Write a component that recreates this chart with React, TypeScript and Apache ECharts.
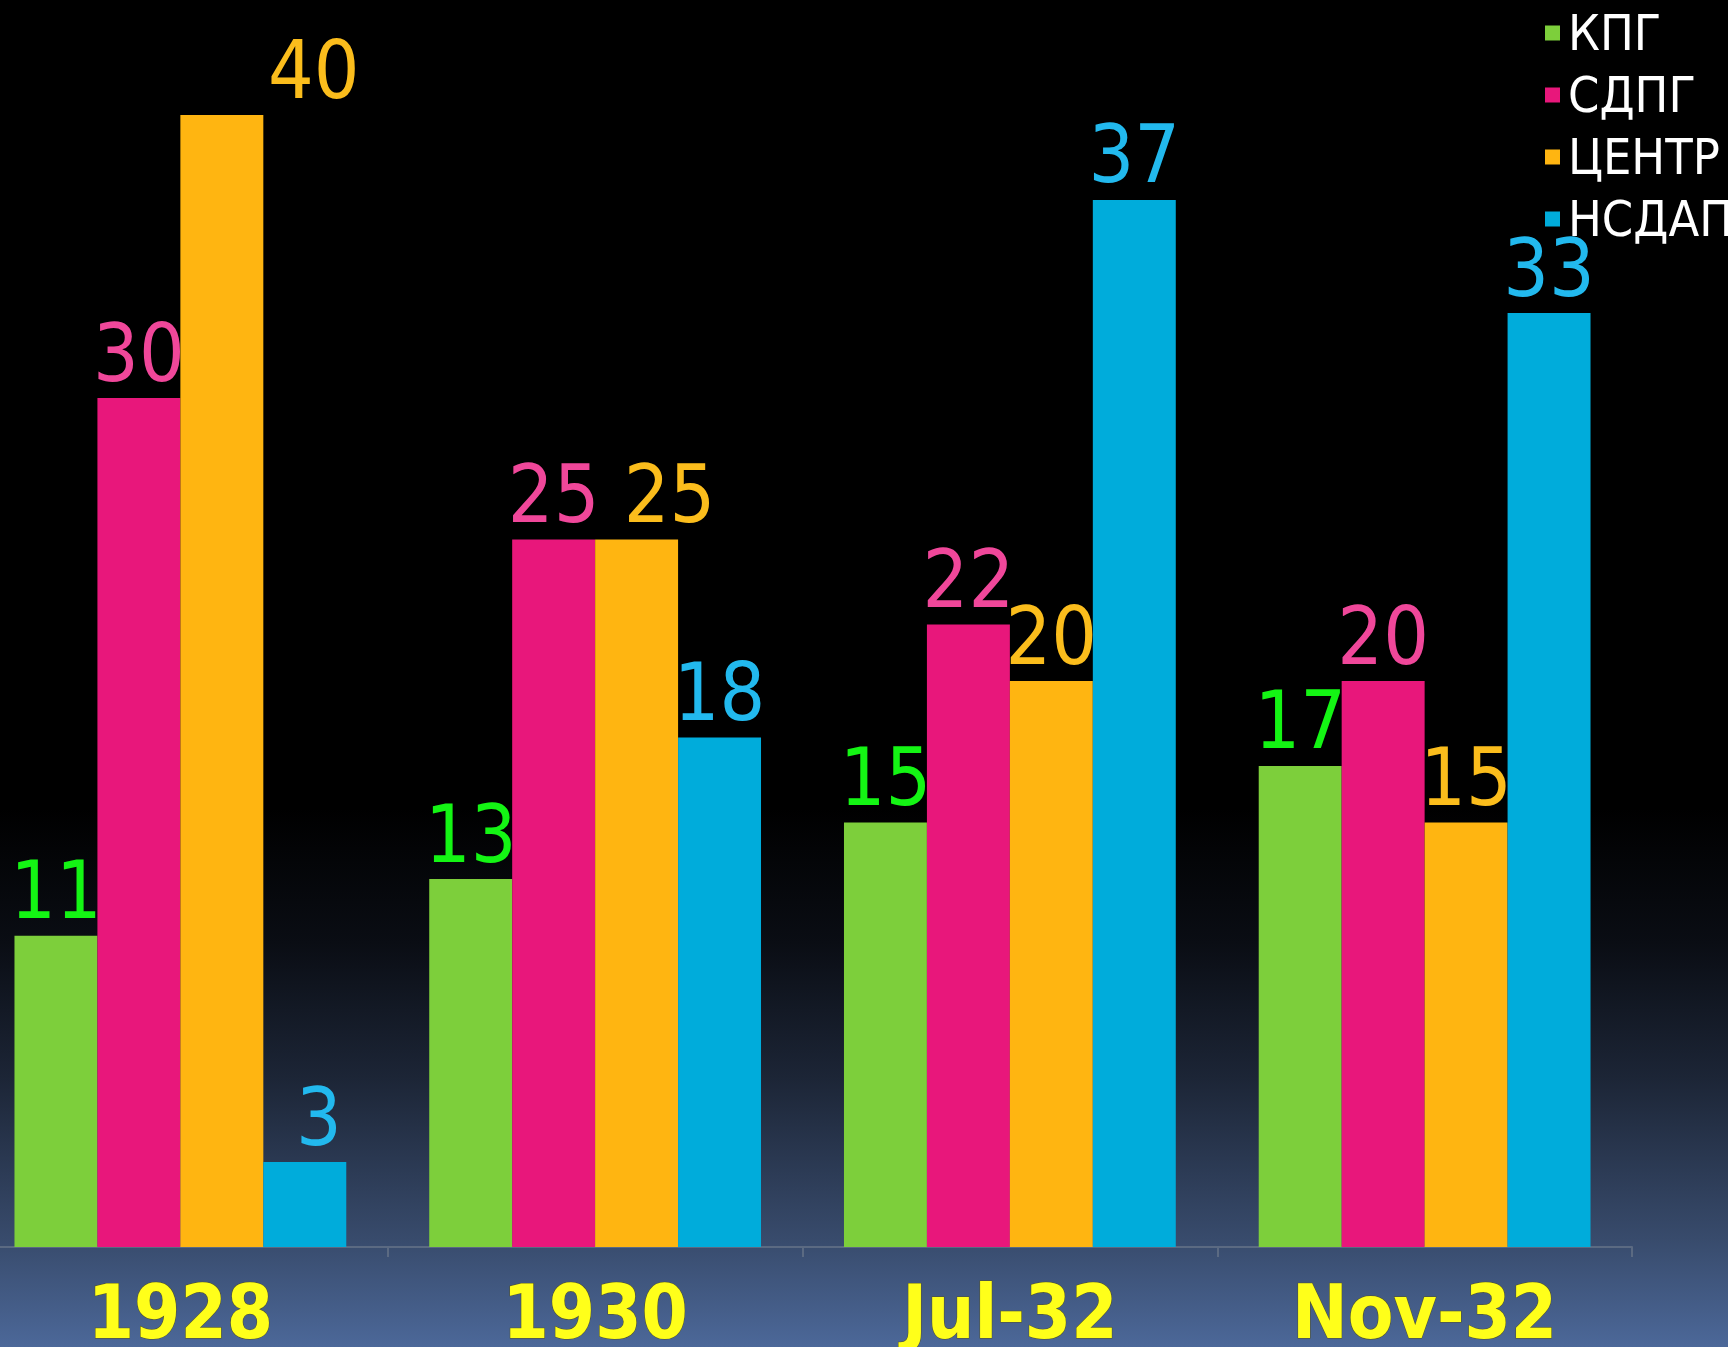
import React, { useEffect, useRef } from "react";
import * as echarts from "echarts";

const categories = ["1928", "1930", "Jul-32", "Nov-32"];
const seriesNames = ["КПГ", "СДПГ", "ЦЕНТР", "НСДАП"];
const kpg = [11, 13, 15, 17];
const sdpg = [30, 25, 22, 20];
const centr = [40, 25, 20, 15];
const nsdap = [3, 18, 37, 33];

const barColors = ["#7dcf3b", "#e8177b", "#ffb511", "#00acdb"];
const labelColors = ["#14f514", "#f0479a", "#fbbd1c", "#22b9ee"];
// horizontal label shifts (px) per series per category
const labelShift = [
  [0, 0, 0, 0],
  [0, 0, 0, 0],
  [92, 33, 0, 0],
  [14, 0, 0, 0],
];

const FONT = '"Liberation Sans Narrow", "DejaVu Sans Condensed", "Liberation Sans", Arial, sans-serif';
const SHIFT = 27;

export default function App() {
  const ref = useRef<HTMLDivElement>(null);
  useEffect(() => {
    document.body.style.margin = "0";
    document.body.style.overflow = "hidden";
    const chart = echarts.init(ref.current!, null, { renderer: "svg" });
    const values = [kpg, sdpg, centr, nsdap];
    chart.setOption({
      animation: false,
      backgroundColor: {
        type: "linear",
        x: 0,
        y: 0,
        x2: 0,
        y2: 1,
        colorStops: [
          { offset: 0, color: "#000000" },
          { offset: 0.6, color: "#000000" },
          { offset: 0.7, color: "#0a0d14" },
          { offset: 0.8, color: "#1c2536" },
          { offset: 0.92, color: "#384b6c" },
          { offset: 1, color: "#4c6899" },
        ],
      },
      legend: {
        orient: "vertical",
        left: 1545 + SHIFT,
        top: 8,
        padding: 0,
        itemWidth: 15,
        itemHeight: 15,
        itemGap: 12,
        icon: "rect",
        data: seriesNames,
        textStyle: {
          color: "#ffffff",
          fontSize: 50,
          fontFamily: FONT,
          padding: [0, 0, 0, 3],
        },
      },
      grid: {
        left: 0,
        right: 96,
        top: 115,
        bottom: 100,
        containLabel: false,
        outerBoundsMode: "none",
      },
      xAxis: {
        type: "category",
        data: categories,
        axisLine: { show: true, lineStyle: { color: "#5b6a82", width: 2 } },
        axisTick: { show: true, length: 10, lineStyle: { color: "#5b6a82", width: 2 } },
        axisLabel: {
          color: "#ffff1a",
          fontSize: 74,
          fontFamily: FONT,
          fontWeight: "bold",
          margin: 28,
          textBorderColor: "#555522",
          textBorderWidth: 1,
        },
        splitLine: { show: false },
      },
      yAxis: { type: "value", min: 0, max: 40, show: false, splitLine: { show: false } },
      series: seriesNames.map((name, si) => ({
        name,
        type: "bar",
        barGap: "0%",
        barCategoryGap: "20%",
        itemStyle: { color: barColors[si] },
        label: {
          show: true,
          position: "top",
          distance: 5,
          color: labelColors[si],
          fontSize: 80,
          fontFamily: FONT,
        },
        data: values[si].map((v, ci) => ({
          value: v,
          label: { offset: [labelShift[si][ci], 0] },
        })),
      })),
    });
    return () => chart.dispose();
  }, []);
  return <div ref={ref} style={{ width: 1728 + SHIFT, height: 1347, marginLeft: -SHIFT }} />;
}
